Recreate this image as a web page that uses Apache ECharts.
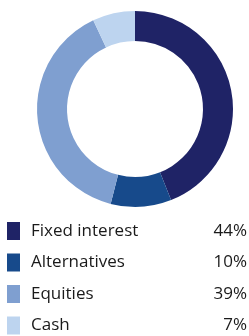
<!DOCTYPE html>
<html>
<head>
<meta charset="utf-8">
<style>
  html, body { margin: 0; padding: 0; background: #fff; }
  #chart { width: 249px; height: 336px; }
</style>
<script src="https://cdn.jsdelivr.net/npm/echarts@6/dist/echarts.min.js"></script>
</head>
<body>
<div id="chart"></div>
<script>
const categories = ["Fixed interest", "Alternatives", "Equities", "Cash"];
const shares = [44, 10, 39, 7];
const colours = ["#1f2366", "#174a8b", "#7f9fd0", "#bdd4ef"];

const chart = echarts.init(document.getElementById("chart"));

const option = {
  animation: false,
  color: colours,
  legend: {
    orient: "vertical",
    left: 7,
    top: 222,
    padding: 0,
    icon: "rect",
    itemWidth: 13,
    itemHeight: 18,
    itemGap: 13.5,
    selectedMode: false,
    data: categories,
    formatter: (name) => {
      const i = categories.indexOf(name);
      return "{n|" + name + "}{p|" + shares[i] + "%}";
    },
    textStyle: {
      lineHeight: 18,
      rich: {
        n: {
          width: 176,
          padding: [0, 0, 0, 6],
          lineHeight: 18,
          fontFamily: "Open Sans",
          fontSize: 17,
          color: "#1a1a1a",
        },
        p: {
          width: 40,
          align: "right",
          lineHeight: 18,
          fontFamily: "Open Sans",
          fontSize: 17,
          color: "#1a1a1a",
        },
      },
    },
  },
  series: [
    {
      type: "pie",
      center: [135, 109],
      radius: [68, 98],
      startAngle: 90,
      clockwise: true,
      silent: true,
      label: { show: false },
      labelLine: { show: false },
      data: categories.map((name, i) => ({ name, value: shares[i] })),
    },
  ],
};

chart.setOption(option);
</script>
</body>
</html>
